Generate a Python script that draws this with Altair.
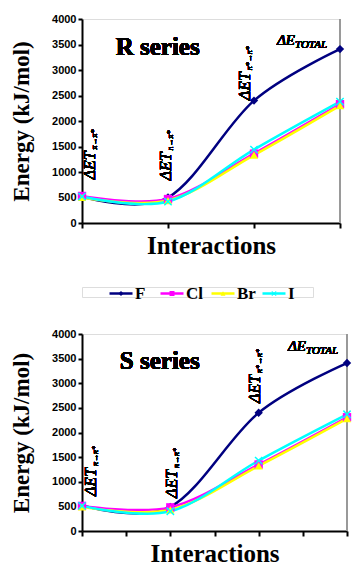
import altair as alt
import pandas as pd

# ---------------- data ----------------
interactions = ["ΔET(π→π*)", "ΔET(n→π*)", "ΔET(π*→π*)", "ΔE(TOTAL)"]
series = ["F", "Cl", "Br", "I"]
colors = ["#000080", "#FF00FF", "#FFFF00", "#00FFFF"]

r_F = [520, 500, 2400, 3410]
r_Cl = [530, 470, 1360, 2330]
r_Br = [500, 440, 1330, 2300]
r_I = [520, 420, 1440, 2380]

s_F = [520, 490, 2400, 3410]
s_Cl = [510, 480, 1350, 2310]
s_Br = [490, 430, 1320, 2280]
s_I = [510, 400, 1430, 2370]

ann_main = ["ΔET", "ΔET", "ΔET", "ΔE"]
ann_sub = ["π→π*", "n→π*", "π*→π*", "TOTAL"]
# label anchors in data units (kJ/mol)
r_ann_y = [855, 835, 2408, 3490]
s_ann_y = [710, 670, 2600, 3650]

y_ticks = list(range(0, 4001, 500))

X_PATH = "M-1,-0.75L-0.75,-1L0,-0.25L0.75,-1L1,-0.75L0.25,0L1,0.75L0.75,1L0,0.25L-0.75,1L-1,0.75L-0.25,0Z"
shapes = ["diamond", "square", "triangle-up", X_PATH]

SERIF = "Liberation Serif"
SANS = "Liberation Sans"


def long_df(vals):
    rows = []
    for s, arr in zip(series, vals):
        for i, v in enumerate(arr):
            rows.append({"series": s, "idx": i, "interaction": interactions[i], "energy": v})
    return pd.DataFrame(rows)


color_scale = alt.Scale(domain=series, range=colors)
shape_scale = alt.Scale(domain=series, range=shapes)


def panel(vals, name, ann_y, ann_dy, total_dx, width, height, minor):
    df = long_df(vals)
    xs = alt.Scale(domain=[0, 3], nice=False, zero=False)
    ys = alt.Scale(domain=[0, 4000], nice=False)
    xticks = [0, 0.5, 1, 1.5, 2, 2.5, 3] if minor else [0, 1, 2, 3]
    xaxis = alt.Axis(title="Interactions", values=xticks, labels=False, grid=False,
                     domainColor="black", domainWidth=2, tickColor="black", tickWidth=2,
                     tickSize=5, titleFont=SERIF, titleFontWeight="bold", titleFontSize=25,
                     titleColor="black", titlePadding=4)
    yaxis = alt.Axis(title="Energy (kJ/mol)", values=y_ticks, format="d", grid=False,
                     labelOverlap=False,
                     domainColor="black", domainWidth=2, tickColor="black", tickWidth=2,
                     tickSize=4, labelFont=SANS, labelFontWeight="bold", labelFontSize=11,
                     labelColor="black", labelPadding=2, titleFont=SERIF,
                     titleFontWeight="bold", titleFontSize=23, titleColor="black",
                     titlePadding=18)

    def X(v=None):
        if v is None:
            return alt.X("idx:Q", scale=xs, axis=xaxis)
        return alt.XDatum(v, type="quantitative", scale=xs, axis=xaxis)

    def Y(v=None):
        if v is None:
            return alt.Y("energy:Q", scale=ys, axis=yaxis)
        return alt.YDatum(v, type="quantitative", scale=ys, axis=yaxis)

    base = alt.Chart(df)
    lines = base.mark_line(interpolate="cardinal", strokeWidth=2.5).encode(
        x=X(), y=Y(),
        color=alt.Color("series:N", scale=color_scale, legend=None),
        order=alt.Order("idx:Q"),
        detail="series:N",
    )
    pts = base.mark_point(filled=True, size=70, opacity=1).encode(
        x=X(), y=Y(),
        color=alt.Color("series:N", scale=color_scale, legend=None),
        shape=alt.Shape("series:N", scale=shape_scale, legend=None),
    )
    border = alt.Chart(df).mark_rule(color="#999999", strokeWidth=1).encode(
        x=X(3), y=Y(0), y2=alt.Y2Datum(4000))
    title = alt.Chart(df).mark_text(font=SERIF, fontWeight="bold", fontSize=25, color="black",
                                    align="center", baseline="middle").encode(
        x=X(0.88), y=Y(3450), text=alt.value(name))
    layers = [border, lines, pts, title]
    for i in range(3):
        main = alt.Chart(df).mark_text(font=SERIF, fontStyle="italic", fontSize=16, color="black",
                                       angle=270, align="left", baseline="middle",
                                       dy=ann_dy[i]).encode(
            x=X(i), y=Y(ann_y[i]), text=alt.value(ann_main[i]))
        sub = alt.Chart(df).mark_text(font=SERIF, fontStyle="italic", fontSize=8, color="black",
                                      angle=270, align="left", baseline="middle",
                                      dx=30, dy=ann_dy[i] + 5).encode(
            x=X(i), y=Y(ann_y[i]), text=alt.value(ann_sub[i]))
        layers += [main, sub]
    tmain = alt.Chart(df).mark_text(font=SERIF, fontStyle="italic", fontSize=15, color="black",
                                    align="left", baseline="alphabetic", dx=total_dx).encode(
        x=X(3), y=Y(ann_y[3]), text=alt.value(ann_main[3]))
    tsub = alt.Chart(df).mark_text(font=SERIF, fontStyle="italic", fontSize=11, color="black",
                                   align="left", baseline="alphabetic", dx=total_dx + 18, dy=3).encode(
        x=X(3), y=Y(ann_y[3]), text=alt.value(ann_sub[3]))
    layers += [tmain, tsub]
    return alt.layer(*layers).properties(width=width, height=height)


top = panel([r_F, r_Cl, r_Br, r_I], "R series", r_ann_y, [8, -2, -9], -63, 258, 204, False)
bottom = panel([s_F, s_Cl, s_Br, s_I], "S series", s_ann_y, [9, 2, -4], -59, 265, 197, True)

leg_df = pd.DataFrame({"series": series})
lx = alt.X("series:N", sort=series, scale=alt.Scale(type="point", padding=0.765), axis=None)
LEG_Y = 6.5
leg_line = alt.Chart(leg_df).mark_rule(strokeWidth=2.5, xOffset=-11.5, x2Offset=11.5).encode(
    x=lx, x2="series:N", y=alt.value(LEG_Y),
    color=alt.Color("series:N", scale=color_scale, legend=None))
leg_pt = alt.Chart(leg_df).mark_point(filled=True, size=25, opacity=1).encode(
    x=lx, y=alt.value(LEG_Y),
    color=alt.Color("series:N", scale=color_scale, legend=None),
    shape=alt.Shape("series:N", scale=shape_scale, legend=None))
leg_txt = alt.Chart(leg_df).mark_text(font=SERIF, fontWeight="bold", fontSize=17, color="black",
                                      align="left", baseline="middle", dx=14).encode(
    x=lx, y=alt.value(LEG_Y), text="series:N")
legend = alt.layer(leg_line, leg_pt, leg_txt).properties(width=231, height=10)

chart = alt.vconcat(top, legend, bottom, spacing=25).properties(
    padding={"left": 10, "top": 12, "right": 0, "bottom": 0}
).configure_view(stroke=None).configure(background="white")

chart.save("out.html", embed_options={"renderer": "svg", "actions": False})
